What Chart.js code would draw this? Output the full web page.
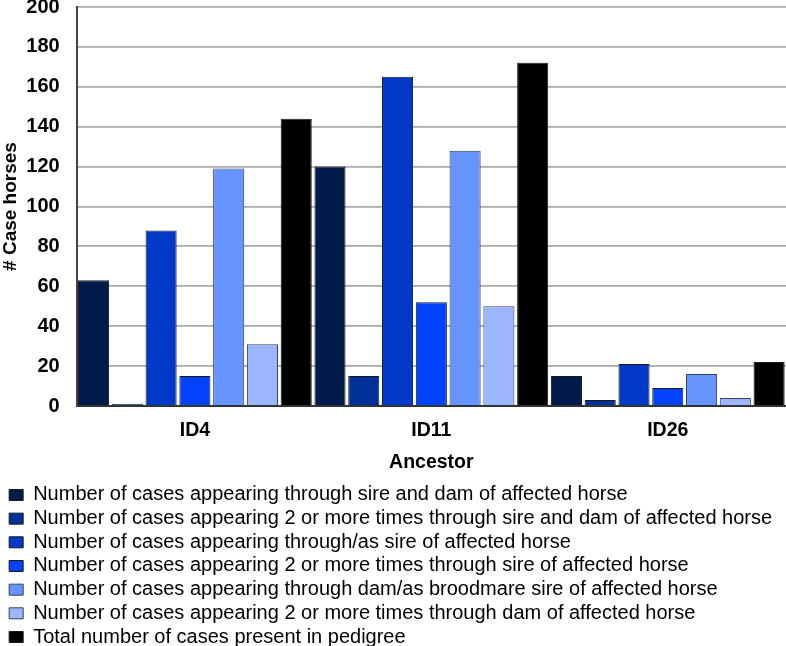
<!DOCTYPE html>
<html>
<head>
<meta charset="utf-8">
<script src="https://cdn.jsdelivr.net/npm/chart.js@4/dist/chart.umd.min.js"></script>
<style>
  html, body { margin: 0; padding: 0; background: #fff; }
  #wrap { position: relative; width: 786px; height: 646px; }
</style>
</head>
<body>
<div id="wrap"><canvas id="ancestor-chart"></canvas></div>
<script>
const ancestors = ['ID4', 'ID11', 'ID26'];

const sireAndDam = [63, 120, 15];
const sireAndDamRepeated = [1, 15, 3];
const throughSire = [88, 165, 21];
const throughSireRepeated = [15, 52, 9];
const throughDam = [119, 128, 16];
const throughDamRepeated = [31, 50, 4];
const totalInPedigree = [144, 172, 22];

const seriesLabels = [
  'Number of cases appearing through sire and dam of affected horse',
  'Number of cases appearing 2 or more times through sire and dam of affected horse',
  'Number of cases appearing through/as sire of affected horse',
  'Number of cases appearing 2 or more times through sire of affected horse',
  'Number of cases appearing through dam/as broodmare sire of affected horse',
  'Number of cases appearing 2 or more times through dam of affected horse',
  'Total number of cases present in pedigree'
];
const seriesValues = [sireAndDam, sireAndDamRepeated, throughSire, throughSireRepeated,
  throughDam, throughDamRepeated, totalInPedigree];
const seriesColors = ['#001a4a', '#00309a', '#0038c8', '#0042ff', '#6695ff', '#9bb6ff', '#000000'];

const yTicks = { min: 0, max: 200, step: 20 };

const fontFamily = '"Liberation Sans", Arial, sans-serif';

const ctx = document.getElementById('ancestor-chart').getContext('2d');
new Chart(ctx, {
  type: 'bar',
  data: {
    labels: ancestors,
    datasets: seriesValues.map((values, i) => ({
      label: seriesLabels[i],
      data: values,
      backgroundColor: seriesColors[i],
      borderColor: i >= 4 && i <= 5 ? '#34405a' : '#1a1a1a',
      borderWidth: 1,
      categoryPercentage: 1,
      barPercentage: 0.92
    }))
  },
  options: {
    responsive: true,
    maintainAspectRatio: false,
    animation: false,
    layout: { padding: { left: 5.5, right: 0, top: 0, bottom: 0 } },
    plugins: {
      tooltip: { enabled: false },
      legend: {
        position: 'bottom',
        align: 'start',
        maxHeight: 164.7,
        labels: {
          boxWidth: 14,
          boxHeight: 11,
          padding: 3.67,
          color: '#000',
          font: { family: fontFamily, size: 20 }
        }
      }
    },
    scales: {
      x: {
        // tick marks only used as spacing, drawn invisible
        grid: { display: false, drawTicks: true, tickLength: 13.2, tickColor: 'transparent' },
        border: { display: true, color: '#333', width: 2 },
        ticks: {
          color: '#000',
          padding: 0,
          font: { family: fontFamily, size: 19.5, weight: 'bold' }
        },
        title: {
          display: true,
          text: 'Ancestor',
          color: '#000',
          padding: { top: 8.5, bottom: 6.8 },
          font: { family: fontFamily, size: 19.5, weight: 'bold' }
        }
      },
      y: {
        min: yTicks.min,
        max: yTicks.max,
        grid: { color: '#aaaaaa', lineWidth: 1.8, drawTicks: true, tickLength: 17, tickColor: 'transparent' },
        border: { display: true, color: '#444', width: 2 },
        ticks: {
          stepSize: yTicks.step,
          color: '#000',
          padding: 0,
          font: { family: fontFamily, size: 20, weight: 'bold', lineHeight: 0.7 }
        },
        title: {
          display: true,
          text: '# Case horses',
          color: '#000',
          padding: { top: -6.2, bottom: 4.2 },
          font: { family: fontFamily, size: 19, weight: 'bold' }
        }
      }
    }
  }
});
</script>
</body>
</html>
